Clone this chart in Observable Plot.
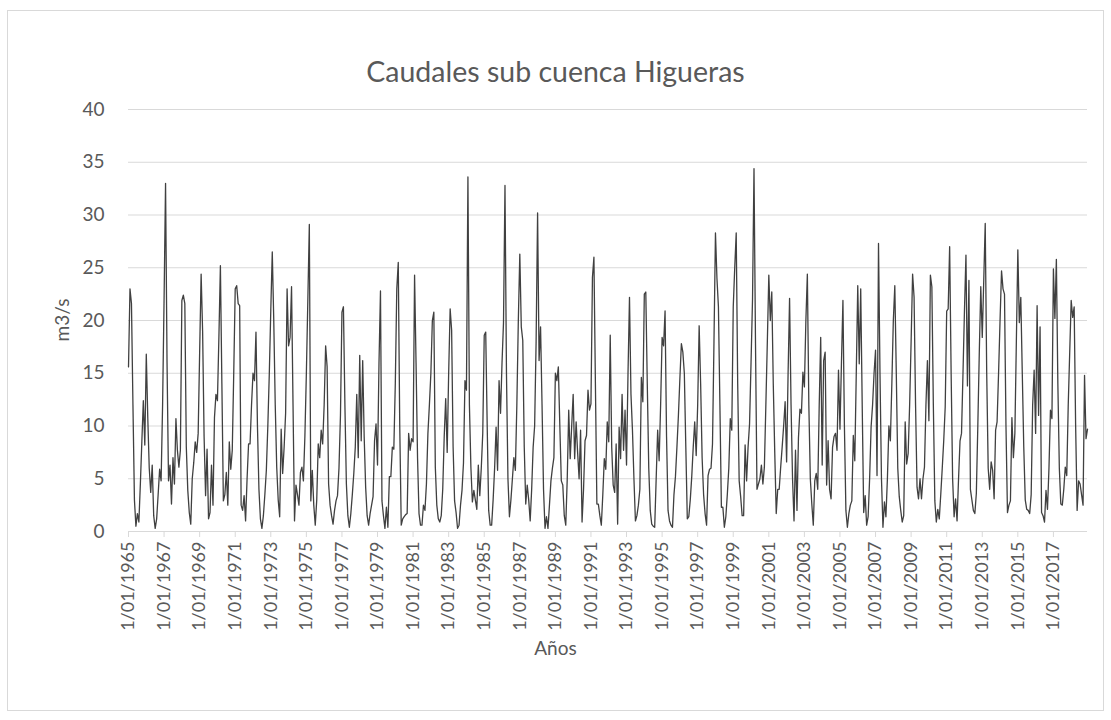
<!DOCTYPE html>
<html>
<head>
<meta charset="utf-8">
<script src="https://cdn.jsdelivr.net/npm/d3@7"></script>
<script src="https://cdn.jsdelivr.net/npm/@observablehq/plot@0.6"></script>
<style>
html, body { margin: 0; padding: 0; background: #ffffff; }
#wrap { position: relative; width: 1111px; height: 720px; font-family: Lato, "Open Sans", sans-serif; color: #595959; overflow: hidden; }
#frame { position: absolute; left: 7px; top: 10px; width: 1097px; height: 701px; border: 1px solid #d9d9d9; box-sizing: border-box; }
#chart { position: absolute; left: 0; top: 0; }
#title { position: absolute; left: 0; width: 1111px; top: 52px; text-align: center; font-size: 28.5px; line-height: 38px; }
#xlabel { position: absolute; left: 0; width: 1111px; top: 636px; text-align: center; font-size: 19px; line-height: 24px; }
#ylabel { position: absolute; left: 62px; top: 320px; font-size: 19px; line-height: 24px; transform: translate(-50%, -50%) rotate(-90deg); white-space: nowrap; }
</style>
</head>
<body>
<div id="wrap">
  <div id="frame"></div>
  <div id="chart"></div>
  <div id="title">Caudales sub cuenca Higueras</div>
  <div id="xlabel">Años</div>
  <div id="ylabel">m3/s</div>
</div>
<script>
// Monthly flows (m3/s), one row per year starting January 1965
const startYear = 1965;
const flowsByYear = [
  [15.6, 23.0, 21.6, 12, 3.0, 0.5, 1.7, 0.9, 4.5, 8.5, 12.4, 8.2],      // 1965
  [16.8, 10.8, 6, 3.7, 6.3, 1.5, 0.3, 1.2, 3.5, 5.9, 4.8, 12],          // 1966
  [22, 33.0, 16, 4.8, 6.3, 2.6, 7.0, 4.5, 10.7, 7.7, 6.1, 7.7],         // 1967
  [21.9, 22.4, 21.6, 8, 3.9, 1.8, 0.7, 5.0, 6.5, 8.5, 7.5, 9.3],        // 1968
  [17, 24.4, 19, 9, 3.4, 7.8, 1.2, 1.8, 6.3, 2.5, 10.8, 13.0],          // 1969
  [12.4, 18.5, 25.2, 14, 2.9, 3.5, 5.6, 2.5, 8.5, 5.9, 7.7, 15],        // 1970
  [23.0, 23.3, 21.6, 21.4, 2.5, 2.0, 3.4, 1.0, 5, 8.3, 8.3, 12],        // 1971
  [15.0, 14.3, 18.9, 10, 4, 1.2, 0.3, 1.5, 3.5, 5.8, 10, 15],           // 1972
  [21, 26.5, 20, 12, 6.1, 3, 1.4, 9.7, 5.5, 8, 11.2, 23.0],             // 1973
  [17.6, 18.4, 23.2, 12, 1.0, 4.4, 3.5, 2.5, 5.6, 6.1, 4.8, 9],         // 1974
  [15, 22, 29.1, 2.9, 5.8, 2.5, 0.6, 3, 8.3, 7.0, 9.6, 8.3],            // 1975
  [12, 17.6, 15.6, 4.5, 2.5, 1.5, 0.7, 2, 2.9, 3.4, 6, 11],             // 1976
  [20.8, 21.3, 12, 4.5, 1.5, 0.4, 1.7, 3.5, 5.5, 8, 13.0, 7.0],         // 1977
  [16.7, 8.6, 16.2, 9, 4.2, 1.5, 0.6, 1.7, 2.5, 3.3, 8.6, 10.2],        // 1978
  [6.3, 16, 22.8, 2.9, 1.5, 0.3, 2.3, 0.4, 5.2, 5.2, 8, 7.8],           // 1979
  [14, 23, 25.5, 10, 0.6, 1.2, 1.4, 1.6, 1.7, 9.3, 7.7, 8.8],           // 1980
  [8.5, 24.3, 16, 7, 1.7, 0.6, 0.6, 2.5, 2, 4.5, 9.3, 12],              // 1981
  [15.0, 20.0, 20.8, 6.1, 2.5, 1.2, 0.9, 1.5, 4, 9, 12.6, 7.5],         // 1982
  [15, 21.1, 19.1, 8, 2.9, 1.8, 0.3, 0.6, 2.5, 3.9, 6.5, 14.3],         // 1983
  [13.4, 33.6, 12, 6.1, 2.8, 3.9, 3, 2.1, 6.3, 3.4, 6, 9.3],            // 1984
  [18.6, 18.9, 10, 2, 0.6, 0.6, 3, 6, 9.9, 5.8, 14.3, 11.2],            // 1985
  [16, 19.8, 32.8, 15, 5, 1.4, 3, 5, 7.0, 5.8, 12, 20],                 // 1986
  [26.3, 19.4, 18.1, 8, 2.6, 4.4, 3, 1.0, 4, 8, 10.0, 18],              // 1987
  [30.2, 16.2, 19.4, 12, 4, 0.3, 1.4, 0.3, 2.5, 4.8, 6, 7.0],           // 1988
  [15.0, 14.3, 15.6, 10, 4.8, 4.4, 1.5, 0.6, 5, 11.5, 6.9, 10],         // 1989
  [13.0, 6.9, 10.4, 7.5, 5.0, 9.6, 0.9, 4, 8.6, 9.1, 13.4, 11.5],       // 1990
  [12.1, 24.1, 26.0, 14, 2.6, 2.6, 1.5, 0.6, 3.5, 6.9, 5.9, 10.4],      // 1991
  [8.5, 18.6, 8, 4.4, 3.7, 8.3, 0.7, 9.9, 6.9, 13.0, 7.7, 11.5],        // 1992
  [6.3, 15, 22.2, 13, 9.6, 5, 1.0, 1.5, 2.5, 4.0, 14.6, 12.3],          // 1993
  [22.5, 22.7, 14, 6, 2, 0.7, 0.5, 0.4, 5, 9.6, 6.7, 12],               // 1994
  [18.4, 17.6, 20.9, 9, 2, 1.0, 0.6, 0.4, 3.5, 5.2, 8, 11],             // 1995
  [14.5, 17.8, 17, 15.0, 8, 1.2, 1.4, 3, 5.2, 8, 10.4, 7.2],            // 1996
  [12, 19.5, 14, 7, 3.5, 1.7, 0.6, 5.3, 5.9, 6, 8.3, 18],               // 1997
  [28.3, 24, 21.3, 12, 2.3, 2.3, 0.4, 1.4, 3.5, 6, 10.7, 9.6],          // 1998
  [21.3, 25, 28.3, 14, 4.8, 3.3, 1.5, 1.5, 8.2, 4.8, 8, 10.2],          // 1999
  [16, 22, 34.4, 18, 4.0, 4.5, 5, 6.3, 4.5, 6.1, 12, 18],               // 2000
  [24.3, 20.0, 22.7, 14, 7.5, 1.7, 4.0, 4.0, 6.1, 8, 10, 12.3],         // 2001
  [6.6, 15, 22.1, 12, 5, 1.0, 7.7, 2.0, 8.9, 11.6, 11.2, 15.1],         // 2002
  [13.7, 20, 24.4, 12, 5, 2.6, 0.6, 4.8, 5.5, 4.0, 12, 18.4],           // 2003
  [6.3, 16.2, 17.0, 4.4, 8.6, 4.0, 3.1, 8.0, 9, 9.3, 7.7, 15.3],        // 2004
  [9.7, 16, 21.9, 10, 2, 0.4, 1.7, 2.5, 2.9, 9.1, 6.7, 15],             // 2005
  [23.3, 15.9, 23.0, 12, 1.8, 3.4, 0.6, 1.4, 5, 9.9, 12, 15],           // 2006
  [17.2, 5.3, 27.3, 15, 5, 0.4, 2.8, 1.4, 5, 10.0, 8.6, 14],            // 2007
  [20, 23.3, 15, 6, 3.3, 2, 0.9, 1.5, 10.4, 6.4, 7.4, 12],              // 2008
  [18, 24.4, 22.2, 12, 4.2, 3.1, 5.0, 3.1, 5, 6.1, 12, 16.2],           // 2009
  [10.5, 24.3, 23.2, 12, 2.9, 0.9, 2.1, 1.2, 3.5, 6, 8.6, 11.8],        // 2010
  [20.9, 21.1, 27.0, 15, 5, 1.4, 3.1, 1.0, 5, 8.6, 9.3, 15],            // 2011
  [21, 26.2, 13.8, 23.8, 4.0, 3, 2.0, 1.7, 3.6, 10, 17, 23.2],          // 2012
  [18.4, 23.8, 29.2, 15, 6, 4.0, 6.6, 5.8, 3.1, 9.6, 10.4, 15],         // 2013
  [20, 24.7, 23.0, 22.5, 10, 1.8, 2.5, 2.9, 10.8, 7.0, 9.3, 18],        // 2014
  [26.7, 19.8, 22.2, 15, 8, 3, 2.1, 2, 1.7, 3.5, 12, 15.3],             // 2015
  [9.3, 21.4, 11.0, 19.4, 1.8, 1.5, 0.9, 3.9, 2.1, 6, 11.5, 10.7],      // 2016
  [24.9, 20.2, 25.8, 14, 6, 2.6, 2.5, 4, 6.1, 5.3, 12, 17],             // 2017
  [21.9, 20.3, 21.3, 10, 2.0, 4.8, 4.5, 3.5, 2.5, 14.8, 8.8, 9.7]       // 2018
];

// Category-axis tick labels, one every 24 months
const tickLabels = ["1/01/1965","1/01/1967","1/01/1969","1/01/1971","1/01/1973","1/01/1975",
  "1/01/1977","1/01/1979","1/01/1981","1/01/1983","1/01/1985","1/01/1987","1/01/1989",
  "1/01/1991","1/01/1993","1/01/1995","1/01/1997","1/01/1999","1/01/2001","1/01/2003",
  "1/01/2005","1/01/2007","1/01/2009","1/01/2011","1/01/2013","1/01/2015","1/01/2017"];
const yTicks = [0, 5, 10, 15, 20, 25, 30, 35, 40];

const series = flowsByYear.flat().map((v, i) => ({i, v}));
const n = series.length;
const tickPositions = tickLabels.map((_, k) => k * 24);

const chart = Plot.plot({
  width: 1111,
  height: 720,
  marginTop: 109,
  marginBottom: 189,
  marginLeft: 128,
  marginRight: 24,
  style: {fontFamily: "Lato, 'Open Sans', sans-serif", fontSize: "18px", color: "#595959", background: "transparent", overflow: "visible"},
  x: {domain: [0, n - 1]},
  y: {domain: [0, 40]},
  marks: [
    Plot.gridY(yTicks, {stroke: "#d9d9d9", strokeOpacity: 1, strokeWidth: 1}),
    Plot.axisY(yTicks, {tickSize: 0, tickPadding: 24, label: null, fontSize: 19}),
    Plot.axisX(tickPositions, {
      tickFormat: (d) => tickLabels[d / 24],
      tickRotate: -90, tickSize: 6, tickPadding: 4,
      stroke: "#d9d9d9", strokeOpacity: 1, label: null, fontSize: 18
    }),
    Plot.line(series, {x: "i", y: "v", stroke: "#404040", strokeWidth: 1.3})
  ]
});
document.getElementById("chart").appendChild(chart);
</script>
</body>
</html>
